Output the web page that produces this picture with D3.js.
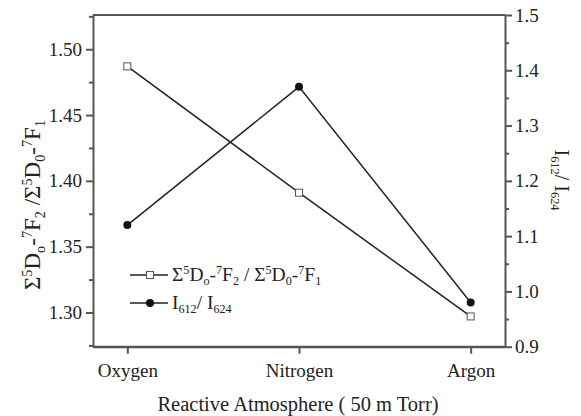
<!DOCTYPE html>
<html><head><meta charset="utf-8">
<script src="https://cdn.jsdelivr.net/npm/d3@7"></script>
<style>
body{margin:0;background:#fff}
svg{display:block}
text{font-family:"Liberation Serif","Times New Roman",serif;fill:#222}
</style></head>
<body><svg id="c" width="581" height="416"></svg>
<script>
// ---- data ----
const categories = ["Oxygen", "Nitrogen", "Argon"];
const ratioF = [1.487, 1.391, 1.297];   // Σ5D0-7F2 / Σ5D0-7F1 (left axis)
const ratioI = [1.12, 1.37, 0.98];      // I612 / I624 (right axis)
const leftTicks = [1.30, 1.35, 1.40, 1.45, 1.50];
const leftMinor = [1.275, 1.325, 1.375, 1.425, 1.475, 1.525];
const rightTicks = [0.9, 1.0, 1.1, 1.2, 1.3, 1.4, 1.5];
const rightMinor = [0.95, 1.05, 1.15, 1.25, 1.35, 1.45];
const xTitle = "Reactive Atmosphere ( 50 m Torr)";

const L = 93, R = 505, T = 15, B = 346.7;
const svg = d3.select("#c");
const ink = "#222", axisCol = "#555";

const x = d3.scalePoint().domain(categories).range([L, R]).padding(0.2);
const yL = d3.scaleLinear().domain([1.274, 1.526]).range([B, T]);
const yR = d3.scaleLinear().domain([0.9, 1.5]).range([B, T]);

function styleAxis(g, fs) {
  g.selectAll("path").attr("stroke", axisCol).attr("stroke-width", 2);
  g.selectAll("line").attr("stroke", axisCol).attr("stroke-width", 2);
  g.selectAll("text").attr("font-size", fs).attr("fill", ink)
    .attr("font-family", '"Liberation Serif","Times New Roman",serif');
}

// minor ticks
svg.append("g").attr("transform", `translate(${L},0)`)
  .call(d3.axisLeft(yL).tickValues(leftMinor.filter(v => yL(v) >= T && yL(v) <= B)).tickSize(4).tickFormat(""))
  .call(g => { styleAxis(g, 0); g.select("path").remove(); });
svg.append("g").attr("transform", `translate(${R},0)`)
  .call(d3.axisRight(yR).tickValues(rightMinor).tickSize(4).tickFormat(""))
  .call(g => { styleAxis(g, 0); g.select("path").remove(); });

// top frame
svg.append("line").attr("x1", L).attr("x2", R).attr("y1", T).attr("y2", T)
  .attr("stroke", axisCol).attr("stroke-width", 2);

// major axes
svg.append("g").attr("transform", `translate(${L},0)`)
  .call(d3.axisLeft(yL).tickValues(leftTicks).tickSize(7).tickSizeOuter(0).tickPadding(4).tickFormat(d3.format(".2f")))
  .call(g => styleAxis(g, 19));
svg.append("g").attr("transform", `translate(${R},0)`)
  .call(d3.axisRight(yR).tickValues(rightTicks).tickSize(7).tickSizeOuter(0).tickPadding(3).tickFormat(d3.format(".1f")))
  .call(g => styleAxis(g, 19));
svg.append("g").attr("transform", `translate(0,${B})`)
  .call(d3.axisBottom(x).tickSize(7).tickSizeOuter(0).tickPadding(10))
  .call(g => styleAxis(g, 19));
svg.append("line").attr("x1", L).attr("x2", R).attr("y1", B).attr("y2", B)
  .attr("stroke", axisCol).attr("stroke-width", 2);

// rich text helper
function rich(sel, parts, fs) {
  parts.forEach(p => {
    const ts = sel.append("tspan").text(p[0]);
    if (p[1] === "sup") ts.attr("font-size", fs * 0.62).attr("baseline-shift", "60%");
    else if (p[1] === "sub") ts.attr("font-size", fs * 0.62).attr("baseline-shift", "-35%");
  });
}
const fParts = [["Σ"], ["5", "sup"], ["D"], ["o", "sub"], ["-"], ["7", "sup"], ["F"], ["2", "sub"], [" /"], ["Σ"], ["5", "sup"], ["D"], ["0", "sub"], ["-"], ["7", "sup"], ["F"], ["1", "sub"]];
const fPartsLeg = [["Σ"], ["5", "sup"], ["D"], ["o", "sub"], ["-"], ["7", "sup"], ["F"], ["2", "sub"], [" / Σ"], ["5", "sup"], ["D"], ["0", "sub"], ["-"], ["7", "sup"], ["F"], ["1", "sub"]];
const iParts = [["I"], ["612", "sub"], ["/ I"], ["624", "sub"]];

// series lines
const line = d3.line();
svg.append("path")
  .attr("d", line(categories.map((c, i) => [x(c), yL(ratioF[i])])))
  .attr("fill", "none").attr("stroke", ink).attr("stroke-width", 1.5);
svg.append("path")
  .attr("d", line(categories.map((c, i) => [x(c), yR(ratioI[i])])))
  .attr("fill", "none").attr("stroke", ink).attr("stroke-width", 1.5);

function square(g, cx, cy) {
  g.append("rect").attr("x", cx - 3.5).attr("y", cy - 3.5).attr("width", 7).attr("height", 7)
    .attr("fill", "#fff").attr("stroke", "#555").attr("stroke-width", 1);
}
function dot(g, cx, cy) {
  g.append("circle").attr("cx", cx).attr("cy", cy).attr("r", 4).attr("fill", "#111");
}
categories.forEach((c, i) => square(svg, x(c), yL(ratioF[i])));
categories.forEach((c, i) => dot(svg, x(c), yR(ratioI[i])));

// legend
const lg = svg.append("g");
[[275, square, fPartsLeg], [303, dot, iParts]].forEach(([ly, mk, parts]) => {
  lg.append("line").attr("x1", 130).attr("x2", 168).attr("y1", ly).attr("y2", ly)
    .attr("stroke", ink).attr("stroke-width", 1.5);
  mk(lg, 150, ly);
  const t = lg.append("text").attr("x", 172).attr("y", ly + 6).attr("font-size", 19.5);
  rich(t, parts, 19.5);
});

// axis titles
svg.append("text").attr("x", 298).attr("y", 411).attr("text-anchor", "middle")
  .attr("font-size", 20.5).text(xTitle);
const lt = svg.append("text").attr("transform", `translate(40,205) rotate(-90)`)
  .attr("text-anchor", "middle").attr("font-size", 23);
rich(lt, fParts, 23);
const rt = svg.append("text").attr("transform", `translate(555,180) rotate(90)`)
  .attr("text-anchor", "middle").attr("font-size", 20);
rich(rt, iParts, 20);
</script></body></html>
